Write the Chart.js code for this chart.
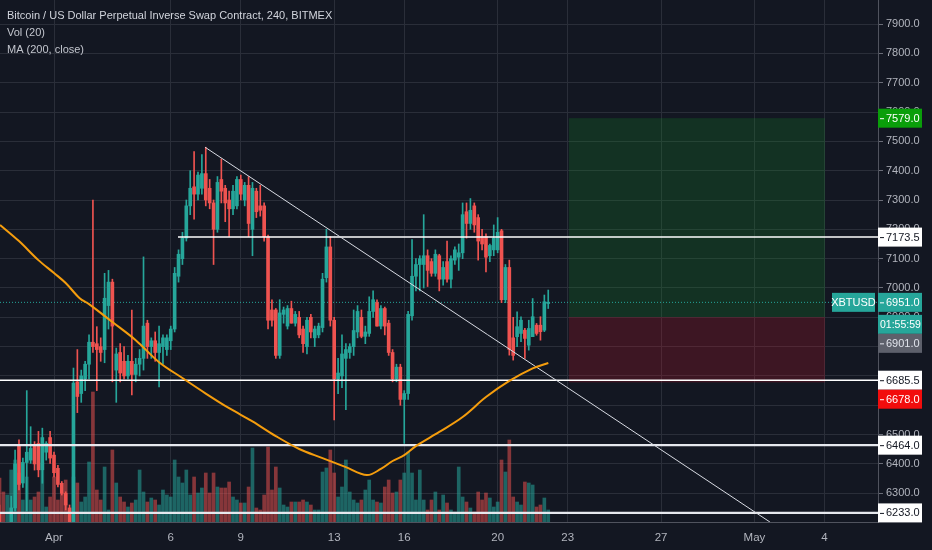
<!doctype html>
<html>
<head>
<meta charset="utf-8">
<title>XBTUSD 240</title>
<script src="https://cdn.jsdelivr.net/npm/chart.js@4.4.1/dist/chart.umd.min.js"></script>
<style>
  html, body { margin: 0; padding: 0; background: #131722; }
  #wrap { width: 932px; height: 550px; position: relative; }
</style>
</head>
<body>
<div id="wrap"><canvas id="btcChart"></canvas></div>
<script>
// 4h candles, x in days from Apr 1 00:00; first candle is Mar 29 16:00
var firstCandle = -14;

var opens = [6230,6150,5990,6120,6250,6460,6335,6405,6413,6460,6470,6380,6440,6490,
  6430,6385,6334,6300,6250,6200,6680,6640,6690,6740,
  6815,6810,6800,6790,6940,7020,6720,6780,6750,6700,
  6750,6705,6740,6760,6880,6800,6820,6780,6800,6790,
  6820,6860,7040,7100,7170,7280,7345,7320,7340,7390,
  7340,7290,7200,7370,7340,7300,7270,7280,7370,7300,
  7350,7200,7330,7280,7280,7175,6925,6925,6770,6910,
  6870,6930,6880,6900,6860,6800,6900,6830,6840,6865,
  7035,7140,6890,6690,6700,6760,6780,6800,6850,6900,
  6835,6845,6920,6950,6870,6930,6880,6780,6690,6730,
  6620,6640,6905,7040,7080,7080,7110,7090,7050,7110,
  7030,7090,7030,7095,7105,7120,7260,7220,7280,7240,
  7175,7175,7110,7130,7130,7195,6960,7070,6830,6834,
  6845,6856,6805,6834,6873,6873,6856,6947];
var highs = [6260,6180,6150,6290,6447,6482,6420,6650,6527,6476,6511,6522,6476,6511,
  6440,6395,6340,6305,6260,6727,6790,6720,6750,6840,
  7300,6868,6830,7050,7060,7030,6795,6810,6800,6770,
  6925,6760,6790,7106,6890,6830,6850,6870,6840,6840,
  6870,7070,7130,7190,7300,7400,7465,7395,7455,7480,
  7370,7300,7380,7440,7350,7330,7350,7380,7385,7360,
  7380,7360,7340,7350,7290,7180,6960,6930,6960,6935,
  6940,6955,6920,6920,6870,6900,6910,6870,6880,7050,
  7200,7175,6900,6760,6840,6810,6810,6925,6940,6925,
  6870,6970,6990,6960,6940,6935,6890,6790,6740,6740,
  6650,6920,7165,7100,7110,7250,7130,7100,7130,7115,
  7090,7160,7110,7140,7150,7290,7290,7305,7290,7250,
  7200,7185,7150,7215,7240,7200,7080,7095,6900,6919,
  6902,6862,6890,6964,6879,6902,6976,6993];
var lows = [6120,5950,5900,6100,6240,6311,6320,6240,6402,6379,6356,6334,6413,6402,
  6356,6322,6294,6243,6150,6150,6575,6610,6650,6690,
  6780,6650,6750,6745,6860,6680,6610,6680,6690,6690,
  6635,6680,6700,6720,6760,6760,6750,6663,6740,6770,
  6790,6850,7020,7080,7160,7250,7235,7300,7320,7280,
  7270,7080,7190,7290,7226,7175,7250,7270,7300,7280,
  7175,7110,7240,7245,7160,6860,6870,6760,6760,6880,
  6860,6880,6870,6830,6780,6775,6830,6800,6830,6850,
  7020,6870,6550,6640,6660,6585,6760,6770,6830,6830,
  6810,6835,6900,6870,6860,6840,6770,6680,6680,6600,
  6470,6620,6890,6990,6990,7000,7005,7040,7040,6990,
  7010,7020,7000,7080,7060,7100,7170,7200,7190,7095,
  7130,7055,7090,7110,7120,6950,6950,6771,6754,6800,
  6817,6760,6788,6834,6839,6822,6851,6930];
var closes = [6150,5990,6120,6250,6400,6330,6405,6440,6453,6400,6380,6490,6470,6420,
  6370,6330,6300,6260,6200,6676,6630,6700,6740,6815,
  6800,6790,6780,6965,7020,6870,6775,6710,6700,6750,
  6705,6740,6760,6870,6800,6820,6780,6810,6830,6830,
  6860,7050,7115,7170,7280,7340,7320,7385,7390,7300,
  7290,7200,7360,7330,7290,7270,7330,7370,7320,7350,
  7220,7340,7260,7265,7175,6890,6890,6770,6915,6925,
  6930,6880,6910,6840,6810,6890,6850,6860,6870,7030,
  7140,6890,6690,6710,6775,6790,6800,6855,6920,6835,
  6850,6920,6960,6870,6930,6870,6780,6690,6730,6620,
  6640,6910,7040,7080,7100,7110,7060,7050,7115,7030,
  7070,7030,7100,7130,7120,7250,7220,7265,7215,7160,
  7150,7105,7145,7170,7190,6960,7070,6790,6770,6868,
  6890,6828,6862,6902,6845,6851,6953,6951];
var volumes = [440,300,270,520,620,490,220,450,220,250,300,590,150,250,
  450,220,290,420,120,450,390,200,250,600,
  1300,320,220,550,120,720,390,250,200,150,
  190,220,520,300,200,240,220,170,320,270,
  250,620,450,390,520,270,450,290,340,490,
  290,490,350,340,340,400,250,220,190,190,
  350,740,140,120,270,750,320,550,340,170,
  150,200,200,200,220,200,170,120,120,500,
  540,720,490,250,350,620,300,220,190,220,
  320,420,220,200,190,350,420,290,300,420,
  490,700,490,220,520,220,120,220,300,120,
  270,190,120,100,550,250,200,140,100,300,
  220,290,240,150,200,620,500,820,250,200,
  170,400,390,370,150,170,240,120];

// MA (200, close)
var maDays = [-2.31,-1.5,-0.67,0,0.5,1.1,1.5,2.5,3.5,4.5,5.5,6.5,7.5,8.5,9.5,10.5,11.5,12.5,13.4,14,14.5,15,15.5,16.5,17.5,18.5,19.5,20.5,21.17];
var maValues = [7215,7160,7095,7051,7017,6965,6945,6884,6822,6747,6693,6640,6590,6545,6495,6451,6420,6389,6362,6383,6410,6430,6461,6509,6560,6628,6683,6726,6744];

// drawings
var trendDays = [6.47, 30.66];
var trendPrices = [7480, 6202];
var levelPrices = [7173.5, 6685.5, 6464.0, 6233.0];
var levelStart = [5.31, -2.4, -2.4, -2.4];
var zoneDays = [22.05, 33.02];
var targetPrice = 7579.0, entryPrice = 6901.0, stopPrice = 6678.0;
var lastPrice = 6951.0;
var countdown = '01:55:59';
var legendLines = ['Bitcoin / US Dollar Perpetual Inverse Swap Contract, 240, BITMEX', 'Vol (20)', 'MA (200, close)'];

// axes
var xMin = -2.313, xMax = 35.29;
var yMin = 6202, yMax = 7982;
var dateTicks = [0, 5, 8, 12, 15, 19, 22, 26, 30, 33];
var dateLabels = ['Apr', '6', '9', '13', '16', '20', '23', '27', 'May', '4'];
var priceTicks = [6300, 6400, 6500, 6600, 6700, 6800, 6900, 7000, 7100, 7200, 7300, 7400, 7500, 7600, 7700, 7800, 7900];

var up = '#26a69a', down = '#ef5350';
var upVol = 'rgba(38,166,154,0.55)', downVol = 'rgba(239,83,80,0.52)';
var FONT = '"Liberation Sans", Arial, sans-serif';

function candleDay(i) { return (firstCandle + i) / 6; }
function isUp(i) { return closes[i] >= opens[i]; }

var bodyData = opens.map(function(o, i) { return { x: candleDay(i), y: [o, closes[i]] }; });
var wickData = lows.map(function(l, i) { return { x: candleDay(i), y: [l, highs[i]] }; });
var volData = volumes.map(function(v, i) { return { x: candleDay(i), y: v }; });
var maData = maDays.map(function(d, i) { return { x: d, y: maValues[i] }; });

var lineSets = levelPrices.map(function(p, i) {
  var strong = i >= 2;
  return {
    type: 'line', data: [{ x: levelStart[i], y: p }, { x: xMax, y: p }],
    borderColor: strong ? '#e6e8ee' : '#ffffff', borderWidth: strong ? 2.2 : 1.5,
    pointRadius: 0, order: 0
  };
});

var zonePlugin = {
  id: 'zones',
  beforeDatasetsDraw: function(chart) {
    var xs = chart.scales.x, ys = chart.scales.y, ctx = chart.ctx;
    var x0 = xs.getPixelForValue(zoneDays[0]), x1 = xs.getPixelForValue(zoneDays[1]);
    var yT = ys.getPixelForValue(targetPrice), yE = ys.getPixelForValue(entryPrice), yS = ys.getPixelForValue(stopPrice);
    ctx.save();
    ctx.fillStyle = 'rgba(20,160,40,0.2)';
    ctx.fillRect(x0, yT, x1 - x0, yE - yT);
    ctx.fillStyle = 'rgba(230,20,40,0.2)';
    ctx.fillRect(x0, yE, x1 - x0, yS - yE);
    ctx.restore();
  }
};

var labelPlugin = {
  id: 'labels',
  afterDraw: function(chart) {
    var ys = chart.scales.y, ctx = chart.ctx, area = chart.chartArea;
    ctx.save();
    // legend lines top left
    ctx.textBaseline = 'middle';
    ctx.textAlign = 'left';
    ctx.font = '11px ' + FONT;
    ctx.fillStyle = '#d1d4dc';
    ctx.fillText(legendLines[0], 7, 16);
    ctx.fillStyle = '#c3c6ce';
    ctx.fillText(legendLines[1], 7, 33);
    ctx.fillText(legendLines[2], 7, 50);

    // price labels on the axis
    var h = 19;
    var tags = [
      { v: targetPrice, t: targetPrice.toFixed(1), bg: '#0a9e0a', fg: '#ffffff' },
      { v: levelPrices[0], t: levelPrices[0].toFixed(1), bg: '#ffffff', fg: '#131722' },
      { v: lastPrice, t: lastPrice.toFixed(1), bg: '#26a69a', fg: '#ffffff', sym: 'XBTUSD' },
      { t: countdown, bg: '#26a69a', fg: '#ffffff', attach: true, small: true },
      { v: entryPrice, t: entryPrice.toFixed(1), bg: '#5d606b', fg: '#e0e3eb' },
      { v: levelPrices[1], t: levelPrices[1].toFixed(1), bg: '#ffffff', fg: '#131722' },
      { v: stopPrice, t: stopPrice.toFixed(1), bg: '#f20d0d', fg: '#ffffff' },
      { v: levelPrices[2], t: levelPrices[2].toFixed(1), bg: '#ffffff', fg: '#131722' },
      { v: levelPrices[3], t: levelPrices[3].toFixed(1), bg: '#ffffff', fg: '#131722' }
    ];
    var lastBottom = -100;
    tags.forEach(function(tg) {
      var top = tg.attach ? lastBottom + 3 : ys.getPixelForValue(tg.v) - h / 2;
      if (top < lastBottom) top = lastBottom;
      ctx.font = (tg.small ? '10.5px ' : '11px ') + FONT;
      ctx.fillStyle = tg.bg;
      ctx.fillRect(area.right, top, 44, h);
      ctx.fillStyle = tg.fg;
      if (!tg.small) ctx.fillRect(area.right + 2, top + h / 2, 4, 1);
      ctx.textAlign = 'left';
      ctx.fillText(tg.t, area.right + (tg.small ? 2 : 8), top + h / 2 + 0.5);
      if (tg.sym) {
        ctx.fillStyle = tg.bg;
        ctx.fillRect(area.right - 46, top, 43, h);
        ctx.fillStyle = tg.fg;
        ctx.textAlign = 'center';
        ctx.fillText(tg.sym, area.right - 24.5, top + h / 2 + 0.5);
      }
      lastBottom = top + h;
    });
    ctx.restore();
  }
};

function noPad(s) { s.paddingLeft = 0; s.paddingRight = 0; s.paddingTop = 0; s.paddingBottom = 0; }

Chart.defaults.font.family = FONT;

var ctx = document.getElementById('btcChart').getContext('2d');
var chart = new Chart(ctx, {
  type: 'bar',
  data: {
    datasets: [
      { type: 'line', data: maData, borderColor: '#f59d0d', borderWidth: 2, pointRadius: 0, tension: 0.35, order: 0 },
      { type: 'line', data: trendDays.map(function(d, i) { return { x: d, y: trendPrices[i] }; }),
        borderColor: '#d8dbe3', borderWidth: 1, pointRadius: 0, order: 0 },
      { type: 'line', data: [{ x: xMin, y: lastPrice }, { x: xMax, y: lastPrice }],
        borderColor: '#26a69a', borderWidth: 1, borderDash: [1, 2], pointRadius: 0, order: 3 }
    ].concat(lineSets).concat([
      { type: 'bar', data: bodyData, grouped: false, barThickness: 3, minBarLength: 1, order: 1,
        backgroundColor: function(c) { return isUp(c.dataIndex) ? up : down; } },
      { type: 'bar', data: wickData, grouped: false, barThickness: 1, order: 2,
        backgroundColor: function(c) { return isUp(c.dataIndex) ? up : down; } },
      { type: 'bar', data: volData, yAxisID: 'vol', grouped: false, barThickness: 3, order: 5,
        backgroundColor: function(c) { return isUp(c.dataIndex) ? upVol : downVol; } }
    ])
  },
  options: {
    responsive: true,
    maintainAspectRatio: false,
    animation: false,
    layout: { padding: 0, autoPadding: false },
    plugins: { legend: { display: false }, tooltip: { enabled: false } },
    scales: {
      x: {
        type: 'linear', min: xMin, max: xMax, offset: false,
        afterBuildTicks: function(s) { s.ticks = dateTicks.map(function(v) { return { value: v }; }); },
        afterFit: function(s) { s.height = 28; noPad(s); },
        grid: { color: '#2a2e39', drawTicks: false, offset: false },
        border: { color: '#50535e' },
        ticks: { color: '#b2b5be', font: { size: 11.5 }, padding: 9, maxRotation: 0, autoSkip: false,
          callback: function(v, i) { return dateLabels[i]; } }
      },
      y: {
        type: 'linear', position: 'right', min: yMin, max: yMax,
        afterBuildTicks: function(s) { s.ticks = priceTicks.map(function(v) { return { value: v }; }); },
        afterFit: function(s) { s.width = 54; noPad(s); },
        grid: { color: '#2a2e39', tickLength: 5, tickColor: '#6a6d78' },
        border: { color: '#50535e' },
        ticks: { color: '#b2b5be', font: { size: 11 }, padding: 3,
          callback: function(v) { return v.toFixed(1); } }
      },
      vol: { type: 'linear', axis: 'y', position: 'right', display: false, min: 0, max: 5220,
        afterFit: function(s) { s.width = 0; noPad(s); } }
    }
  },
  plugins: [zonePlugin, labelPlugin]
});
</script>
</body>
</html>
